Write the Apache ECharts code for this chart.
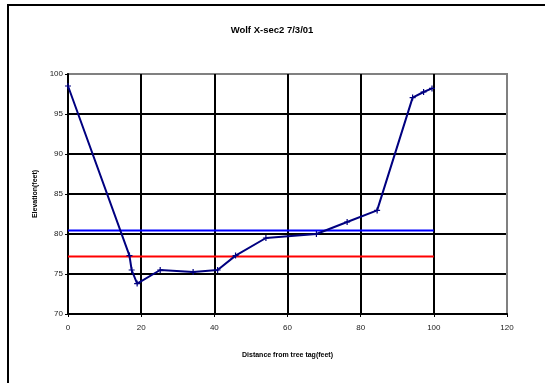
<!DOCTYPE html>
<html>
<head>
<meta charset="utf-8">
<script src="https://cdn.jsdelivr.net/npm/echarts@6/dist/echarts.min.js"></script>
<style>html,body{margin:0;padding:0;background:#fff}#c{width:545px;height:383px}</style>
</head>
<body>
<div id="c"></div>
<script>
const distance = [0, 16.8, 17.4, 18.9, 25.2, 34.2, 40.9, 45.8, 54.1, 67.9, 76.3, 84.5, 94.2, 97.2, 99.5];
const elevation = [98.5, 77.3, 75.5, 73.8, 75.5, 75.25, 75.5, 77.3, 79.5, 80.0, 81.5, 82.95, 97.05, 97.75, 98.2];
const blueLineX = [0, 100];
const blueLineY = [80.45, 80.45];
const redLineX = [0, 100];
const redLineY = [77.2, 77.2];
const xTicks = [0, 20, 40, 60, 80, 100, 120];
const yTicks = [70, 75, 80, 85, 90, 95, 100];

const zip = (a, b) => a.map((v, i) => [v, b[i]]);
const plusPath = 'path://M4,0 L6,0 L6,4 L10,4 L10,6 L6,6 L6,10 L4,10 L4,6 L0,6 L0,4 L4,4 Z';
const gridColors = ['#000', '#000', '#000', '#000', '#000', '#000', '#808080'];

const chart = echarts.init(document.getElementById('c'), null, {renderer: 'canvas'});
chart.setOption({
  animation: false,
  backgroundColor: '#fff',
  title: {
    text: 'Wolf X-sec2 7/3/01',
    left: 267, top: 20, textAlign: 'center',
    textStyle: {fontFamily: 'Liberation Sans, Arial', fontSize: 9.5, fontWeight: 'bold', color: '#000'}
  },
  graphic: [{
    type: 'rect', shape: {x: 8, y: 5, width: 700, height: 500},
    style: {fill: 'none', stroke: '#000', lineWidth: 2}, silent: true, z: 100
  }],
  grid: {left: 68, right: 38, top: 74, bottom: 69, show: true, borderColor: '#808080', borderWidth: 2, backgroundColor: '#fff'},
  xAxis: {
    type: 'value', min: xTicks[0], max: xTicks[xTicks.length - 1], interval: 20,
    name: 'Distance from tree tag(feet)', nameLocation: 'middle', nameGap: 38,
    nameTextStyle: {fontFamily: 'Liberation Sans, Arial', fontSize: 7, fontWeight: 'bold', color: '#000'},
    axisLine: {show: true, onZero: false, lineStyle: {color: '#000', width: 2}},
    axisTick: {show: true, length: 3, lineStyle: {color: '#000', width: 1}},
    axisLabel: {fontFamily: 'Liberation Sans, Arial', fontSize: 8, color: '#222', margin: 10},
    splitLine: {show: true, lineStyle: {color: gridColors, width: 2}}
  },
  yAxis: {
    type: 'value', min: yTicks[0], max: yTicks[yTicks.length - 1], interval: 5,
    name: 'Elevation(feet)', nameLocation: 'middle', nameGap: 29, nameRotate: 90,
    nameTextStyle: {fontFamily: 'Liberation Sans, Arial', fontSize: 7, fontWeight: 'bold', color: '#000'},
    axisLine: {show: true, onZero: false, lineStyle: {color: '#000', width: 2}},
    axisTick: {show: true, length: 3, lineStyle: {color: '#000', width: 1}},
    axisLabel: {fontFamily: 'Liberation Sans, Arial', fontSize: 8, color: '#222', margin: 5},
    splitLine: {show: true, lineStyle: {color: gridColors, width: 2}}
  },
  series: [
    {
      type: 'line', data: zip(blueLineX, blueLineY), symbol: 'none',
      lineStyle: {color: '#0000ff', width: 2}, z: 3
    },
    {
      type: 'line', data: zip(redLineX, redLineY), symbol: 'none',
      lineStyle: {color: '#ff0000', width: 2}, z: 3
    },
    {
      type: 'line', data: zip(distance, elevation),
      symbol: plusPath, symbolSize: 6,
      itemStyle: {color: '#000080'},
      lineStyle: {color: '#000080', width: 2}, z: 4
    }
  ]
});
</script>
</body>
</html>
